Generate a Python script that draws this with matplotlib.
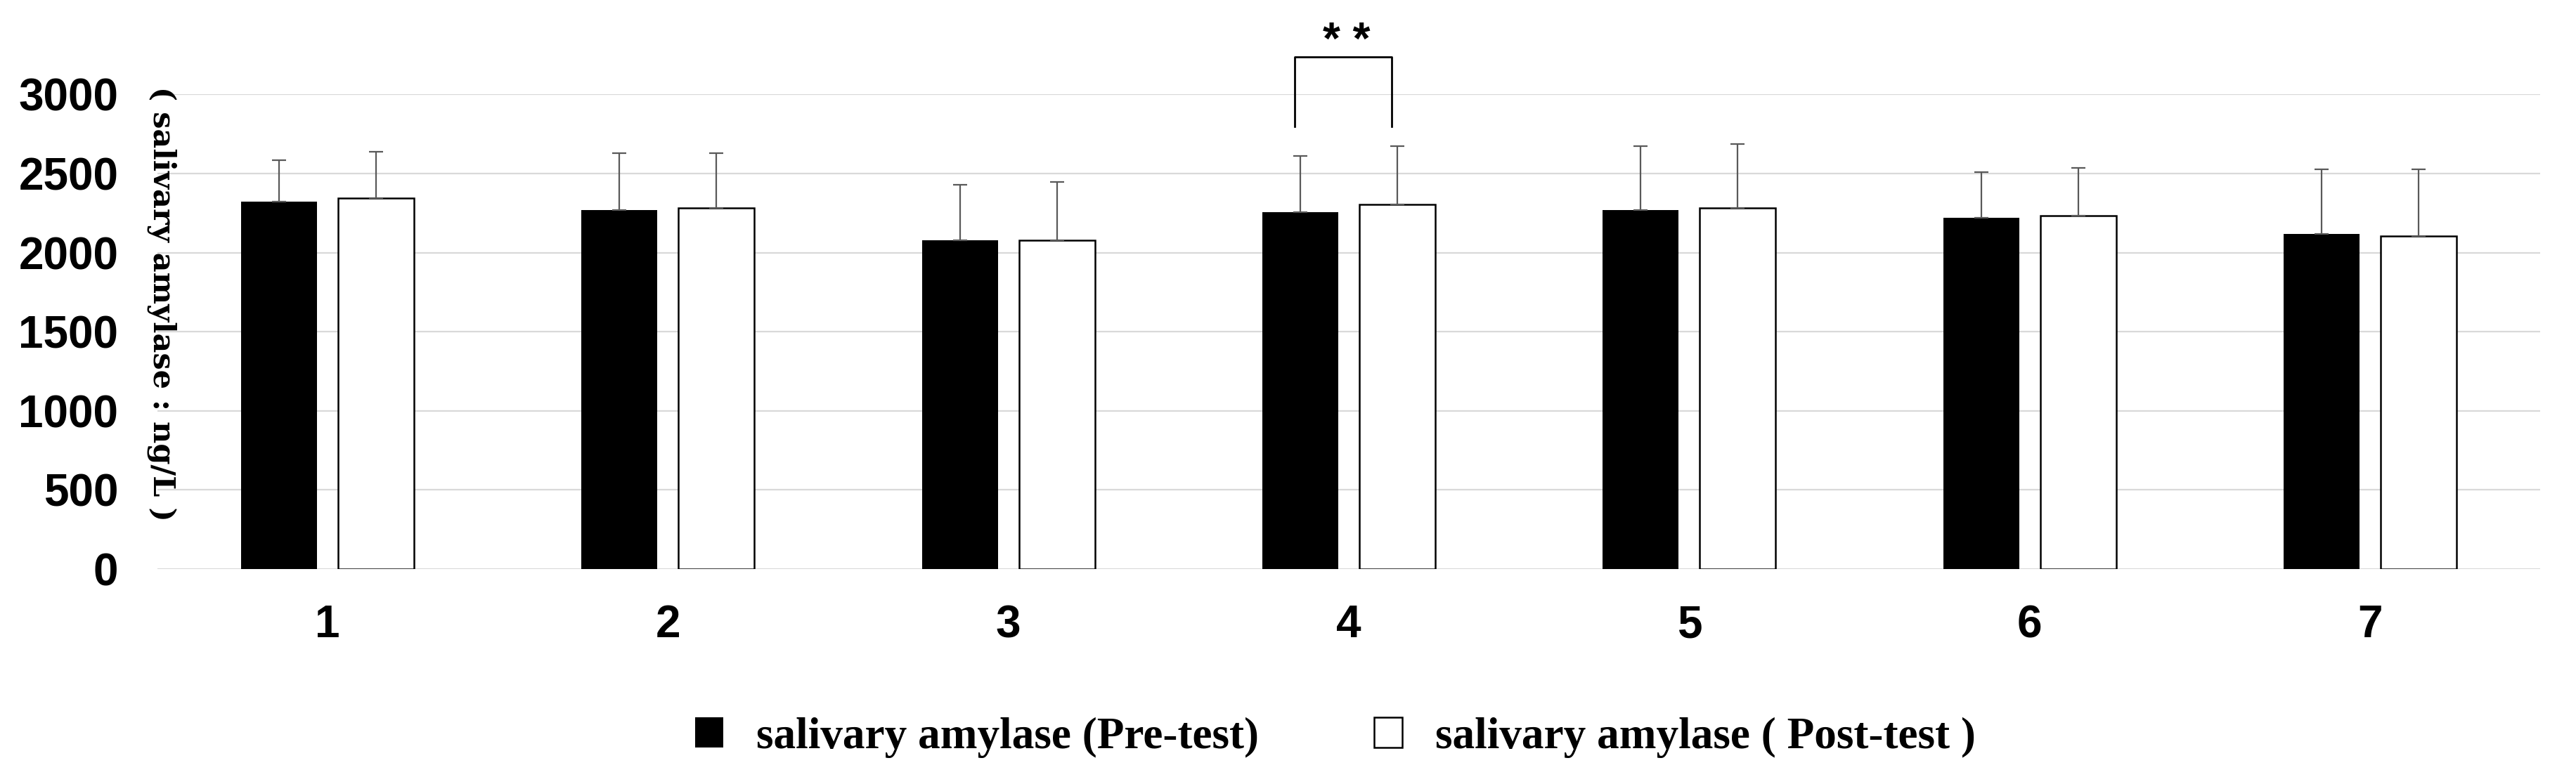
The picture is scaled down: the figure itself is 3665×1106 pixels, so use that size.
import matplotlib
matplotlib.use('Agg')
import matplotlib.pyplot as plt
import numpy as np

groups = ['1', '2', '3', '4', '5', '6', '7']
pre_mean = [2322, 2271, 2078, 2256, 2271, 2221, 2118]
pre_sd = [262, 356, 353, 355, 402, 288, 409]
post_mean = [2345, 2282, 2078, 2305, 2282, 2233, 2105]
post_sd = [293, 345, 367, 368, 403, 301, 422]
y_ticks = [0, 500, 1000, 1500, 2000, 2500, 3000]

sig_group = 3
sig_label = '* *'
bracket_low, bracket_high = 2797, 3236

W, H, DPI = 3666, 1106, 100
fig = plt.figure(figsize=(W / DPI, H / DPI), dpi=DPI)
ax = fig.add_axes([224 / W, 1 - 810 / H, (3614 - 224) / W, 675.6 / H])

x = np.arange(len(groups))
bw = 0.223
off = 0.1425
err_kw = dict(ecolor='#595959', elinewidth=1.6, capsize=7, capthick=1.6)

b_pre = ax.bar(x - off, pre_mean, bw, color='black', edgecolor='black', lw=0,
               yerr=[np.zeros(len(x)), pre_sd], error_kw=err_kw, zorder=3,
               label='salivary amylase (Pre-test)')
b_post = ax.bar(x + off, post_mean, bw, color='white', edgecolor='black', lw=1.8,
                yerr=[np.zeros(len(x)), post_sd], error_kw=err_kw, zorder=3,
                label='salivary amylase ( Post-test )')

ax.set_xlim(-0.5, len(groups) - 0.5)
ax.set_ylim(0, 3000)
ax.set_yticks(y_ticks)
ax.set_yticklabels([str(v) for v in y_ticks], fontsize=46, family='Liberation Sans', fontweight='bold')
ax.set_xticks(x)
ax.set_xticklabels(groups, fontsize=46, family='Liberation Sans', fontweight='bold')
ax.tick_params(axis='both', length=0)
ax.tick_params(axis='y', pad=40)
ax.tick_params(axis='x', pad=36)
for s in ax.spines.values():
    s.set_visible(False)
ax.yaxis.grid(True, color='#d9d9d9', lw=1.6, zorder=0)
ax.set_axisbelow(True)

# significance bracket over group 4
xl = sig_group - off - 0.016
xr = sig_group + off - 0.016
ax.plot([xl, xl, xr, xr], [bracket_low, bracket_high, bracket_high, bracket_low],
        color='black', lw=2, clip_on=False, zorder=4)
ax.text((xl + xr) / 2 + 0.01, 3330, sig_label, ha='center', va='center',
        fontsize=46, family='Liberation Sans', fontweight='bold', clip_on=False)

fig.text(230 / W, 1 - 432 / H, '( salivary amylase : ng/L )', rotation=270,
         ha='center', va='center', fontsize=31, family='DejaVu Serif', fontweight='bold')

fig.legend(handles=[b_pre, b_post], loc='center', bbox_to_anchor=(1900 / W, 1 - 1050 / H),
           ncol=2, frameon=False, prop={'family': 'Liberation Serif', 'weight': 'bold', 'size': 45.5},
           handlelength=0.63, handleheight=0.67, handletextpad=0.75, columnspacing=2.6)

fig.savefig('out.png', dpi=DPI)
